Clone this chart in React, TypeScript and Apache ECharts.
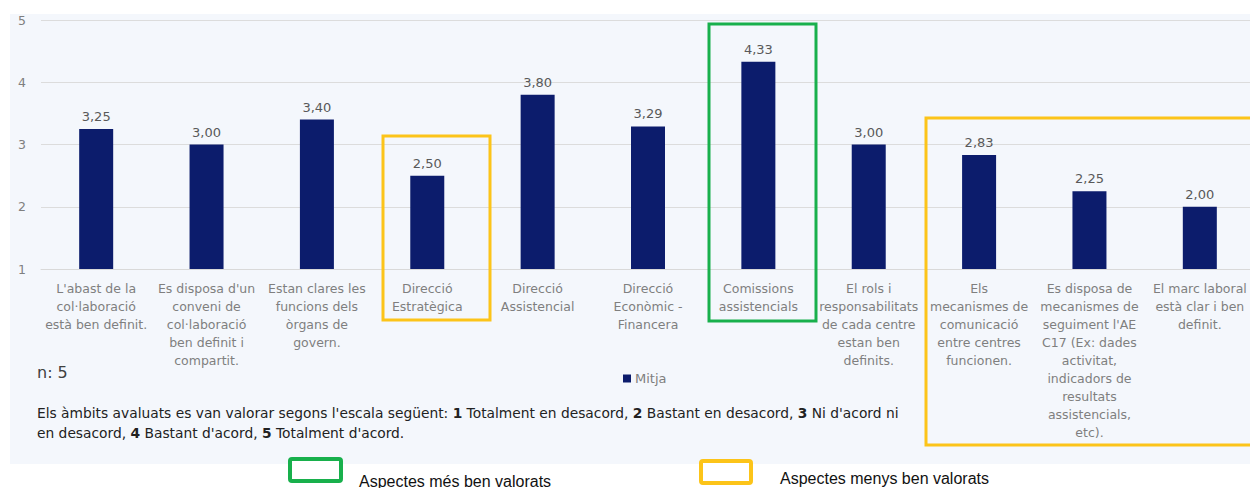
import { useEffect, useRef } from "react";
import * as echarts from "echarts";

// Survey items (one bar each) and their mean scores
const categories = [
  "L'abast de la\ncol·laboració\nestà ben definit.",
  "Es disposa d'un\nconveni de\ncol·laboració\nben definit i\ncompartit.",
  "Estan clares les\nfuncions dels\nòrgans de\ngovern.",
  "Direcció\nEstratègica",
  "Direcció\nAssistencial",
  "Direcció\nEconòmic -\nFinancera",
  "Comissions\nassistencials",
  "El rols i\nresponsabilitats\nde cada centre\nestan ben\ndefinits.",
  "Els\nmecanismes de\ncomunicació\nentre centres\nfuncionen.",
  "Es disposa de\nmecanismes de\nseguiment l'AE\nC17 (Ex: dades\nactivitat,\nindicadors de\nresultats\nassistencials,\netc).",
  "El marc laboral\nestà clar i ben\ndefinit.",
];
const mitja = [3.25, 3.0, 3.4, 2.5, 3.8, 3.29, 4.33, 3.0, 2.83, 2.25, 2.0];
const seriesName = "Mitja";

// Value axis: Likert scale 1–5
const yMin = 1;
const yMax = 5;
const yStep = 1;

const sampleText = "n: 5";
const scaleNote =
  "Els àmbits avaluats es van valorar segons l'escala següent: {b|1} Totalment en desacord, {b|2} Bastant en desacord, {b|3} Ni d'acord ni\n" +
  "en desacord, {b|4} Bastant d'acord, {b|5} Totalment d'acord.";
const bestLabel = "Aspectes més ben valorats";
const worstLabel = "Aspectes menys ben valorats";

const FONT = "'DejaVu Sans', Verdana, sans-serif";
const KEY_FONT = "'Liberation Sans', Arial, sans-serif";
const NAVY = "#0c1c6c";
const GREEN = "#18b04c";
const YELLOW = "#fcc419";

export default function App() {
  const ref = useRef<HTMLDivElement>(null);

  useEffect(() => {
    if (!ref.current) return;
    const chart = echarts.init(ref.current, undefined, { renderer: "svg" });

    chart.setOption({
      animation: false,
      backgroundColor: "transparent",
      textStyle: { fontFamily: FONT },
      grid: { left: 41, right: 15, top: 20, bottom: 219, containLabel: false },
      legend: {
        data: [seriesName],
        left: 618,
        top: 367,
        icon: "rect",
        itemWidth: 8,
        itemHeight: 8,
        itemGap: 10,
        textStyle: { color: "#7f7f7f", fontSize: 13, fontFamily: FONT, padding: [0, 0, 0, -1] },
      },
      xAxis: {
        type: "category",
        data: categories,
        axisTick: { show: false },
        axisLine: { lineStyle: { color: "#d9d9d9", width: 1 } },
        axisLabel: {
          interval: 0,
          margin: 10,
          color: "#7f7f7f",
          fontSize: 12.5,
          lineHeight: 18,
          fontFamily: FONT,
        },
      },
      yAxis: {
        type: "value",
        min: yMin,
        max: yMax,
        interval: yStep,
        axisLine: { show: false },
        axisTick: { show: false },
        splitLine: { lineStyle: { color: "#dcdcdc", width: 1 } },
        axisLabel: { color: "#7f7f7f", fontSize: 12.5, margin: 15, fontFamily: FONT },
      },
      series: [
        {
          name: seriesName,
          type: "bar",
          data: mitja,
          barWidth: 34,
          itemStyle: { color: NAVY },
          label: {
            show: true,
            position: "top",
            distance: 6,
            color: "#595959",
            fontSize: 13,
            fontFamily: FONT,
            formatter: (p: any) => Number(p.value).toFixed(2).replace(".", ","),
          },
        },
      ],
      graphic: [
        // light panel behind the plot
        {
          type: "rect",
          z: -10,
          silent: true,
          shape: { x: 10, y: 14, width: 1250, height: 450 },
          style: { fill: "#f4f7fc" },
        },
        {
          type: "text",
          z: 10,
          style: {
            text: sampleText,
            x: 37,
            y: 372,
            verticalAlign: "middle",
            fontSize: 16,
            fontFamily: FONT,
            fill: "#404040",
          },
        },
        {
          type: "text",
          z: 10,
          style: {
            text: scaleNote,
            x: 37,
            y: 403,
            fontSize: 13.8,
            lineHeight: 20,
            fontFamily: FONT,
            fill: "#222222",
            rich: {
              b: { fontWeight: "bold", fontSize: 13.8, fontFamily: FONT, fill: "#222222" },
            },
          },
        },
        // highlight frames
        {
          type: "rect",
          z: 20,
          shape: { x: 383, y: 136, width: 107, height: 184 },
          style: { fill: "none", stroke: YELLOW, lineWidth: 3 },
        },
        {
          type: "rect",
          z: 20,
          shape: { x: 709, y: 24, width: 107, height: 297 },
          style: { fill: "none", stroke: GREEN, lineWidth: 3 },
        },
        {
          type: "rect",
          z: 20,
          shape: { x: 926, y: 118, width: 340, height: 327 },
          style: { fill: "none", stroke: YELLOW, lineWidth: 3 },
        },
        // key for the frames
        {
          type: "rect",
          z: 20,
          shape: { x: 290, y: 459, width: 51, height: 22, r: 2 },
          style: { fill: "#ffffff", stroke: GREEN, lineWidth: 4 },
        },
        {
          type: "text",
          z: 20,
          style: {
            text: bestLabel,
            x: 359,
            y: 481,
            verticalAlign: "middle",
            fontSize: 16,
            fontFamily: KEY_FONT,
            fill: "#111111",
          },
        },
        {
          type: "rect",
          z: 20,
          shape: { x: 701, y: 461, width: 50, height: 22, r: 2 },
          style: { fill: "#ffffff", stroke: YELLOW, lineWidth: 4 },
        },
        {
          type: "text",
          z: 20,
          style: {
            text: worstLabel,
            x: 780,
            y: 478,
            verticalAlign: "middle",
            fontSize: 16,
            fontFamily: KEY_FONT,
            fill: "#111111",
          },
        },
      ],
    });

    return () => chart.dispose();
  }, []);

  return (
    <div
      style={{
        position: "fixed",
        left: 0,
        top: 0,
        width: 1250,
        height: 488,
        overflow: "hidden",
        background: "#ffffff",
      }}
    >
      <div ref={ref} style={{ width: 1270, height: 488 }} />
    </div>
  );
}
